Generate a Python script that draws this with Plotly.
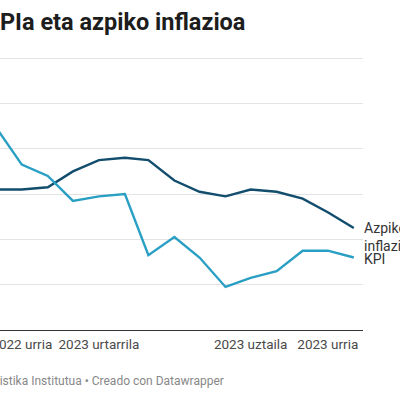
import plotly.graph_objects as go

months = ["2022-09-01", "2022-10-01", "2022-11-01", "2022-12-01", "2023-01-01",
          "2023-02-01", "2023-03-01", "2023-04-01", "2023-05-01", "2023-06-01",
          "2023-07-01", "2023-08-01", "2023-09-01", "2023-10-01", "2023-11-01"]
kpi = [8.9, 7.3, 6.8, 5.7, 5.9, 6.0, 3.3, 4.1, 3.2, 1.9, 2.3, 2.6, 3.5, 3.5, 3.2]
azpiko = [6.2, 6.2, 6.3, 7.0, 7.5, 7.6, 7.5, 6.6, 6.1, 5.9, 6.2, 6.1, 5.8, 5.2, 4.5]

tick_vals = ["2022-10-01", "2023-01-01", "2023-07-01", "2023-10-01"]
tick_text = ["2022 urria", "2023 urtarrila", "2023 uztaila", "2023 urria"]

dark = "#124d6d"
light = "#2a9fc4"

fig = go.Figure()
fig.add_trace(go.Scatter(x=months, y=azpiko, mode="lines", name="Azpiko inflazioa",
                         line=dict(color=dark, width=2.4)))
fig.add_trace(go.Scatter(x=months, y=kpi, mode="lines", name="KPI",
                         line=dict(color=light, width=2.4)))

fig.update_layout(
    width=400, height=400,
    margin=dict(l=0, r=37, t=57, b=70),
    paper_bgcolor="white", plot_bgcolor="white",
    showlegend=False,
    font=dict(family="Roboto", color="#333"),
    xaxis=dict(type="date", range=["2022-09-05", "2023-11-12"],
               tickvals=tick_vals, ticktext=tick_text,
               tickfont=dict(size=13.5, color="#4a4a4a"),
               ticklabeloverflow="allow", automargin=False,
               showgrid=False, showline=True, linecolor="#333", linewidth=1.3,
               ticks="outside", ticklen=2, tickcolor="rgba(0,0,0,0)"),
    yaxis=dict(range=[0, 12.05], dtick=2, showticklabels=False, automargin=False,
               gridcolor="#e3e3e3", gridwidth=1, zeroline=False, fixedrange=True),
)

fig.add_annotation(text="<b>KPIa eta azpiko inflazioa</b>", xref="paper", yref="paper",
                   x=247 / 363, y=1 + 35 / 273, xanchor="right", yanchor="middle",
                   showarrow=False, font=dict(size=23.5, color="#1d1d1d"))
fig.add_annotation(text="Iturria: Estatistika Institutua • Creado con Datawrapper",
                   xref="paper", yref="paper", x=226 / 363, y=-51 / 273,
                   xanchor="right", yanchor="middle", showarrow=False,
                   font=dict(size=12, color="#888"))
fig.add_annotation(text="Azpiko<br>inflazioa", xref="x", yref="y", x=months[-1], y=azpiko[-1],
                   xanchor="left", yanchor="top", xshift=8, yshift=10, align="left",
                   showarrow=False, font=dict(size=14, color="#333"))
fig.add_annotation(text="KPI", xref="x", yref="y", x=months[-1], y=kpi[-1],
                   xanchor="left", yanchor="middle", xshift=8, yshift=-1, align="left",
                   showarrow=False, font=dict(size=14, color="#333"))

fig.write_html("out.html", config={"displayModeBar": False},
               post_script="document.body.style.margin='0';")
